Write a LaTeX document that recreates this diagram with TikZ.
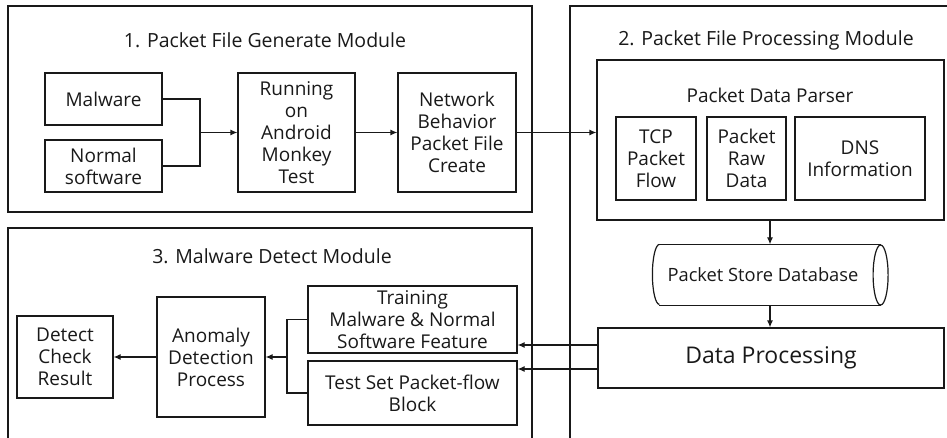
\documentclass[tikz,border=0pt]{standalone}
\usepackage{fontspec}
\setmainfont{Open Sans}
\usetikzlibrary{arrows.meta}
\begin{document}
\begin{tikzpicture}[x=1pt,y=-1pt,
  line width=1.2pt, draw=black!90,
  every node/.style={font=\fontsize{19}{22}\selectfont, text=black!90, align=center, inner sep=0pt},
  box/.style={draw, minimum width=#1},
  arr/.style={-{Latex[length=7pt,width=6pt]}},
  title/.style={font=\fontsize{19.5}{22}\selectfont}]
\useasboundingbox (0,0) rectangle (947,438);
\clip (0,0) rectangle (947,438);
% module frames
\draw (8,6) rectangle (532,212);
\draw (570,445) -- (570,6) -- (955,6);
\draw (8,445) -- (8,228) -- (532,228) -- (532,445);
% titles
\node[title] (t1) at (265,40) {1. Packet File Generate Module};
\node[title] (t2) at (766,40) {2. Packet File Processing Module};
\node[title] (t3) at (272,256) {3. Malware Detect Module};
% module 1
\node[box=117pt, minimum height=52pt] (mal) at (103.5,99) {Malware};
\node[box=117pt, minimum height=52pt] (norm) at (103.5,166) {Normal\\software};
\node[box=117pt, minimum height=119pt] (run) at (296.5,132.5) {Running\\on\\Android\\Monkey\\Test};
\node[box=118pt, minimum height=119pt] (net) at (457,132.5) {Network\\Behavior\\Packet File\\Create};
\coordinate (j1) at (200,132.5);
\draw (mal.east) -| (j1);
\draw (norm.east) -| (j1);
\draw[arr] (j1) -- (run.west);
\draw[arr] (run.east) -- (net.west);
% module 2
\node[box=347pt, minimum height=160pt] (parser) at (770.5,140) {};
\node (ptitle) at (770,95) {Packet Data Parser};
\node[box=80pt, minimum height=83pt] (tcp) at (656,158.5) {TCP\\Packet\\Flow};
\node[box=79pt, minimum height=83pt] (raw) at (746.5,158.5) {Packet\\Raw\\Data};
\node[box=130pt, minimum height=83pt] (dns) at (860,158.5) {DNS\\Information};
\draw[arr] (net.east) -- (net.east -| parser.west);
\node[minimum width=220pt, minimum height=60pt] (db) at (770,275) {};
\node[font=\fontsize{18.3}{22}\selectfont] (dbtext) at (763,275) {Packet Store Database};
\draw (db.north west) -- (db.north east) (db.south west) -- (db.south east);
\draw (db.north west) arc[start angle=270, end angle=90, x radius=7, y radius=30];
\draw (db.east) ellipse[x radius=7.5, y radius=30];
\node[box=346pt, minimum height=60pt, font=\fontsize{23}{27}\selectfont] (dp) at (771,358) {Data Processing};
\draw[arr] (parser.south -| db.north) -- (db.north);
\draw[arr] (db.south) -- (db.south |- dp.north);
% module 3
\node[box=209pt, minimum height=67pt] (train) at (412.5,319.5) {Training\\Malware \& Normal\\Software Feature};
\node[box=209pt, minimum height=64pt] (test) at (412.5,393) {Test Set Packet-flow\\Block};
\node[box=108pt, minimum height=120pt] (anom) at (211,357) {Anomaly\\Detection\\Process};
\node[box=96pt, minimum height=82pt] (det) at (65,357) {Detect\\Check\\Result};
\coordinate (a1) at ([yshift=13pt]dp.west);
\coordinate (a2) at ([yshift=-11pt]dp.west);
\draw[arr] (a1) -- (a1 -| train.east);
\draw[arr] (a2) -- (a2 -| test.east);
\coordinate (j2) at (287,357);
\draw (train.west) -| (j2);
\draw (test.west) -| (j2);
\draw[arr] (j2) -- (anom.east);
\draw[arr] (anom.west) -- (det.east);
\end{tikzpicture}
\end{document}
